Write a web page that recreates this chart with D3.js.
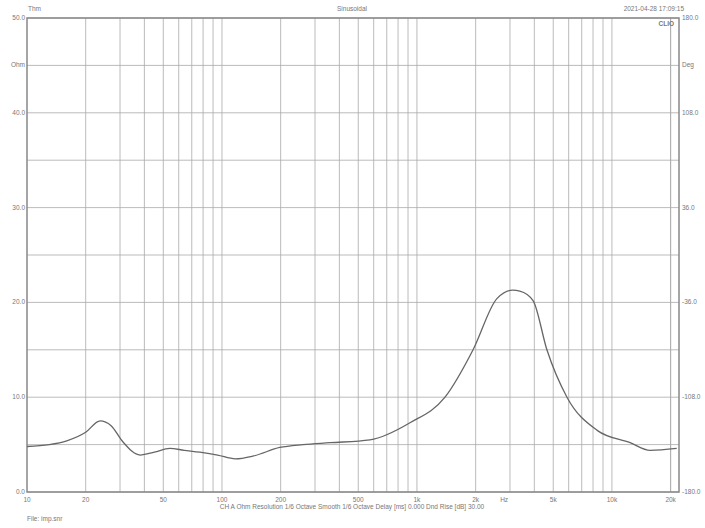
<!DOCTYPE html><html><head><script src="https://cdn.jsdelivr.net/npm/d3@7"></script>
<style>body{margin:0;background:#fff}text{font-family:"Liberation Sans",Arial,sans-serif;fill:#777}</style></head><body>
<svg id="c" width="705" height="528"></svg>
<script>
const freq=[10,13,16,20,23.7,27,31,38,45,54,64,77,95,117,145,198,260,358,574,921,1393,1940,2570,3100,3370,3940,4640,5880,8400,12400,15700,21500];
const ohm=[4.8,5.0,5.4,6.3,7.5,7.0,5.3,3.9,4.2,4.6,4.4,4.2,3.9,3.5,3.8,4.7,5.0,5.2,5.5,7.3,10,15,20.4,21.3,21.2,20.2,15,10,6.5,5.2,4.4,4.6];
const xTicks=[[10,"10"],[20,"20"],[50,"50"],[100,"100"],[200,"200"],[500,"500"],[1000,"1k"],[2000,"2k"],[5000,"5k"],[10000,"10k"],[20000,"20k"]];
const yTicks=[0,10,20,30,40,50];
const rTicks=["-180.0","-108.0","-36.0","36.0","108.0","180.0"];
const svg=d3.select("#c");
const L=27,R=679,T=18,B=492;
const x=d3.scaleLog().domain([10,22080]).range([L,R]);
const y=d3.scaleLinear().domain([0,50]).range([B,T]);
const g=svg.append("g");
const vg=[];for(let d=10;d<=10000;d*=10)for(let m=1;m<10;m++){const v=d*m;if(v<=20000&&v>10)vg.push(v);}
vg.push(20000);
g.selectAll(".v").data(vg).join("line").attr("x1",d=>x(d)).attr("x2",d=>x(d)).attr("y1",T).attr("y2",B).attr("stroke","#aaa").attr("stroke-width",0.8);
g.selectAll(".h").data(d3.range(0,51,5)).join("line").attr("x1",L).attr("x2",R).attr("y1",d=>y(d)).attr("y2",d=>y(d)).attr("stroke","#aaa").attr("stroke-width",0.8);
svg.append("rect").attr("x",L).attr("y",T).attr("width",R-L).attr("height",B-T).attr("fill","none").attr("stroke","#888").attr("stroke-width",1.5);
svg.selectAll(".xl").data(xTicks).join("text").attr("x",d=>x(d[0])).attr("y",B+10).attr("font-size",6.5).attr("text-anchor","middle").text(d=>d[1]);
svg.append("text").attr("x",x(2800)).attr("y",B+10).attr("font-size",6.5).attr("text-anchor","middle").text("Hz");
svg.selectAll(".yl").data(yTicks).join("text").attr("x",L-2).attr("y",d=>y(d)+2).attr("font-size",6.5).attr("text-anchor","end").text(d=>d.toFixed(1));
svg.selectAll(".rl").data(yTicks).join("text").attr("x",R+3).attr("y",(d,i)=>y(d)+2).attr("font-size",6.5).text((d,i)=>rTicks[i]);
svg.append("text").attr("x",L-2).attr("y",y(45)+2).attr("font-size",6.5).attr("text-anchor","end").text("Ohm");
svg.append("text").attr("x",R+3).attr("y",y(45)+2).attr("font-size",6.5).text("Deg");
svg.append("text").attr("x",28).attr("y",11).attr("font-size",6.5).text("Thm");
svg.append("text").attr("x",352).attr("y",11).attr("font-size",6.5).attr("text-anchor","middle").text("Sinusoidal");
svg.append("text").attr("x",684).attr("y",11).attr("font-size",6.5).attr("text-anchor","end").text("2021-04-28 17:09:15");
svg.append("text").attr("x",674).attr("y",26).attr("font-size",6.5).attr("text-anchor","end").attr("font-weight","bold").text("CLIO");
svg.append("text").attr("x",352).attr("y",509).attr("font-size",6.5).attr("text-anchor","middle").text("CH A   Ohm   Resolution 1/6 Octave   Smooth 1/6 Octave   Delay [ms] 0.000   Dnd Rise [dB] 30.00");
svg.append("text").attr("x",27).attr("y",521).attr("font-size",6.5).text("File: imp.snr");
svg.append("path").datum(freq.map((f,i)=>[f,ohm[i]])).attr("fill","none").attr("stroke","#666").attr("stroke-width",1.3)
 .attr("d",d3.line().x(d=>x(d[0])).y(d=>y(d[1])).curve(d3.curveMonotoneX));
</script></body></html>
